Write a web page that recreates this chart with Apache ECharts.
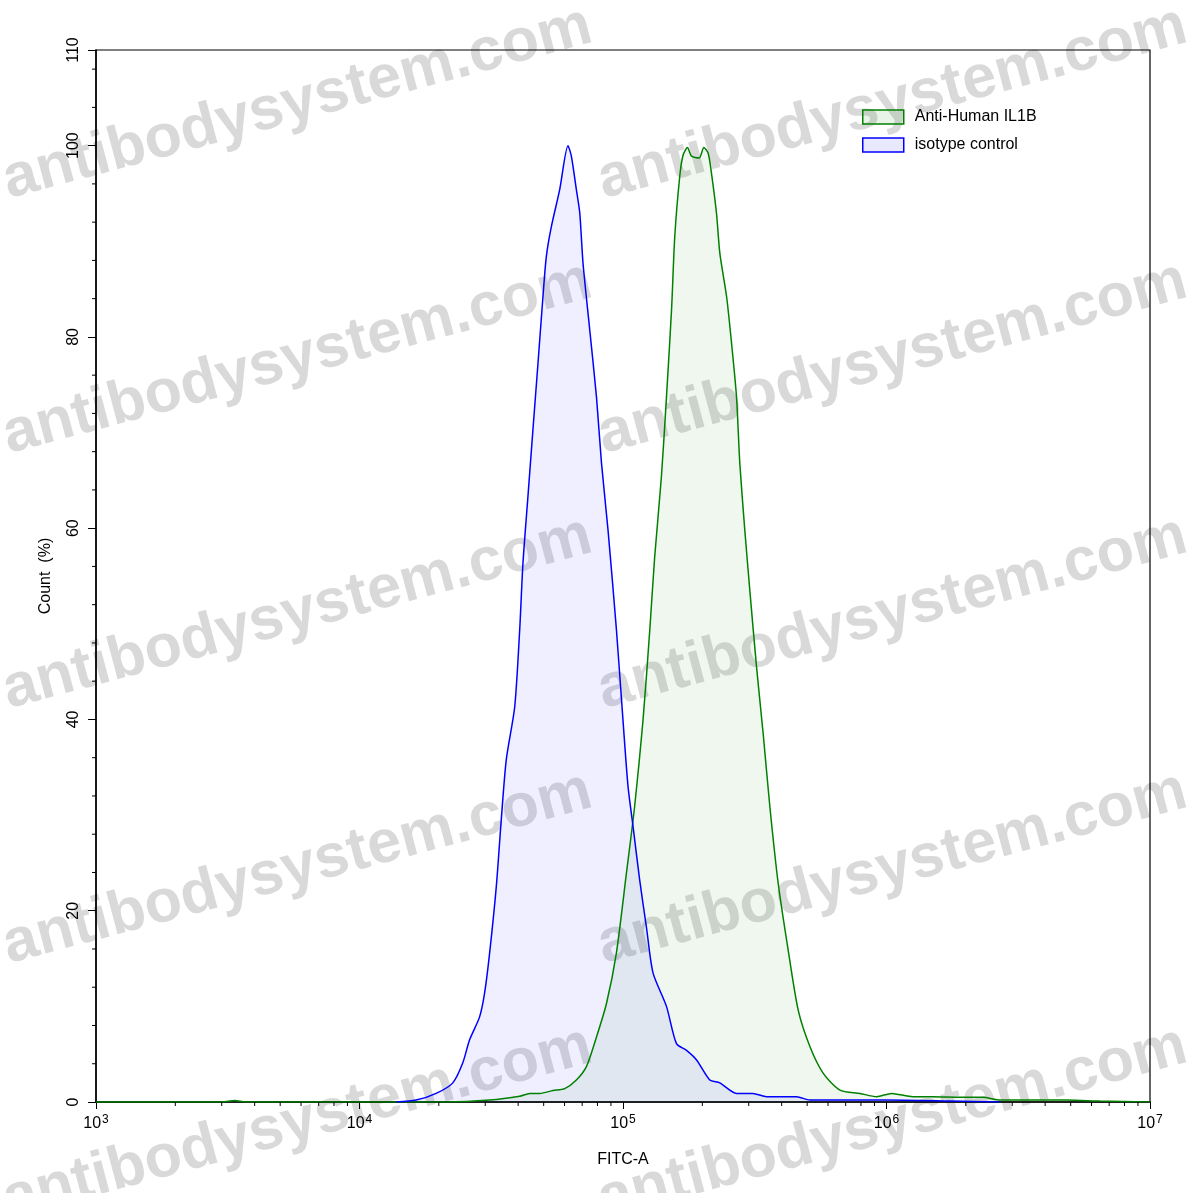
<!DOCTYPE html>
<html><head><meta charset="utf-8">
<script src="https://cdn.jsdelivr.net/npm/echarts@6/dist/echarts.min.js"></script>
<style>html,body{margin:0;padding:0;background:#fff}#c{width:1197px;height:1193px}</style>
</head><body><div id="c"></div>
<script>
const seriesNames = ['Anti-Human IL1B', 'isotype control'];

// Anti-Human IL1B (green)
const antiFitc = [1000, 3000, 3360, 3700, 21330, 31180, 40550, 44260, 48310, 54240, 60100, 66530, 72620, 79320, 86550, 94410,
  103000, 110700, 119100, 126400, 131900, 139900, 146200, 152800, 157200, 164200, 169000, 175700, 181900, 194500, 202700,
  210500, 216700, 226400, 233200, 247300, 258300, 269700, 277500, 289900, 302900, 321200, 340400, 360800, 388000, 423400,
  462300, 512000, 575400, 665700, 793100, 917000, 1045000, 1259000, 1500000, 1900000, 2324000, 2697000, 4833000, 6460000, 10000000];
const antiCount = [0, 0, 0.15, 0, 0, 0.2, 0.6, 0.9, 0.9, 1.2, 1.4, 2.3, 3.7, 6.8, 10.3, 15.6,
  23.9, 30.9, 39.9, 49.4, 57.0, 65.4, 73.7, 82.8, 90.5, 96.8, 99.0, 99.8, 98.9, 98.7, 99.8,
  99.2, 97.1, 92.9, 88.7, 84.2, 79.3, 73.7, 66.8, 59.8, 53.5, 45.5, 38.5, 30.9, 22.9, 15.9,
  9.6, 5.8, 3.0, 1.25, 0.9, 0.55, 0.9, 0.55, 0.55, 0.5, 0.5, 0.2, 0.2, 0.1, 0];

// isotype control (blue)
const isoFitc = [13770, 16400, 19540, 22600, 24660, 26170, 28560, 29840, 31180, 33040, 34510, 36060, 38810, 40550, 41710,
  43570, 45520, 47560, 49680, 51170, 53450, 57500, 61830, 63680, 66530, 68520, 70520, 74800, 79320, 82870, 87740, 94410,
  100000, 104500, 109200, 115700, 122700, 130000, 146200, 159600, 174200, 190200, 213500, 232900, 269700, 311000, 350600,
  456000, 512000, 745000, 1000000, 1741000, 2697000];
const isoCount = [0, 0.2, 0.9, 2.0, 4.1, 6.5, 8.9, 11.4, 15.6, 22.5, 29.5, 35.8, 41.3, 49.4, 56.3,
  63.3, 70.3, 77.2, 84.2, 88.4, 91.5, 95.4, 100, 98.9, 95.4, 93.0, 87.7, 80.7, 73.7, 66.8, 59.8, 49.4,
  39.9, 33.0, 28.8, 23.2, 18.3, 13.5, 10.0, 6.1, 5.4, 4.4, 2.3, 2.0, 0.9, 0.9, 0.55,
  0.55, 0.2, 0.2, 0.2, 0.1, 0];

// minor tick positions
const xDecades = [3, 4, 5, 6];
const xMinorMultipliers = [2, 3, 4, 5, 6, 7, 8, 9];
const yMinorTicks = [4, 8, 12, 16, 24, 28, 32, 36, 44, 48, 52, 56, 64, 68, 72, 76, 84, 88, 92, 96, 104, 108];

const xMinorTicks = [];
xDecades.forEach(d => xMinorMultipliers.forEach(m => xMinorTicks.push(m * Math.pow(10, d))));

const zip = (a, b) => a.map((v, i) => [v, b[i]]);
const FONT = '"Liberation Sans", Arial, Helvetica, sans-serif';

const wmRows = [199, 454, 709, 964, 1219];
const wmCols = [9, 604];
const graphics = [];
wmRows.forEach(y => wmCols.forEach(x => {
  graphics.push({
    type: 'text', x: x, y: y, rotation: 15.0 * Math.PI / 180, z: -10, silent: true,
    style: { text: 'antibodysystem.com', fill: 'rgba(150,150,150,0.36)', fontSize: 61, fontWeight: 'bold',
      fontFamily: FONT, align: 'left', verticalAlign: 'bottom', y: 13 }
  });
}));

const chart = echarts.init(document.getElementById('c'), null, { renderer: 'canvas' });
chart.setOption({
  animation: false,
  backgroundColor: '#fff',
  textStyle: { fontFamily: FONT },
  graphic: graphics,
  grid: { left: 96, right: 47, top: 50, bottom: 91, show: true, borderColor: '#000', borderWidth: 1.2, backgroundColor: 'transparent' },
  legend: {
    orient: 'vertical', left: 862, top: 109, padding: 0, itemWidth: 41, itemHeight: 14, itemGap: 12, icon: 'rect',
    textStyle: { fontSize: 16, color: '#000', fontFamily: FONT, padding: [0, 0, 0, 6] },
    data: [
      { name: seriesNames[0], itemStyle: { color: 'rgba(0,128,0,0.09)', borderColor: '#008000', borderWidth: 1.5 } },
      { name: seriesNames[1], itemStyle: { color: 'rgba(0,0,255,0.09)', borderColor: '#0000ff', borderWidth: 1.5 } }
    ]
  },
  xAxis: {
    type: 'log', logBase: 10, min: 1000, max: 10000000,
    name: 'FITC-A', nameLocation: 'middle', nameGap: 50,
    nameTextStyle: { fontSize: 16, color: '#000', fontFamily: FONT },
    axisLine: { lineStyle: { color: '#000', width: 1.5 } },
    axisTick: { length: 7, lineStyle: { color: '#000', width: 1 } },
    splitLine: { show: false },
    axisLabel: {
      margin: 12, color: '#000',
      formatter: v => '{b|10}{s|' + Math.round(Math.log10(v)) + '}',
      rich: {
        b: { fontSize: 16, fontFamily: FONT, color: '#000' },
        s: { fontSize: 12, fontFamily: FONT, color: '#000', padding: [0, 0, 7, 1] }
      }
    }
  },
  yAxis: {
    type: 'value', min: 0, max: 110, interval: 20,
    name: 'Count  (%)', nameLocation: 'middle', nameGap: 42, nameRotate: 90,
    nameTextStyle: { fontSize: 16, color: '#000', fontFamily: FONT },
    axisLine: { show: true, lineStyle: { color: '#000', width: 1.5 } },
    axisTick: { show: true, length: 8, lineStyle: { color: '#000', width: 1 } },
    splitLine: { show: false },
    axisLabel: { rotate: 90, margin: 14, fontSize: 16, color: '#000', fontFamily: FONT }
  },
  series: [
    {
      name: seriesNames[0], type: 'line', data: zip(antiFitc, antiCount), smooth: 0.25, symbol: 'none', z: 3,
      lineStyle: { color: '#008000', width: 1.5 }, itemStyle: { color: '#008000' },
      areaStyle: { color: 'rgba(0,128,0,0.09)' }
    },
    {
      name: seriesNames[1], type: 'line', data: zip(isoFitc, isoCount), smooth: 0.25, symbol: 'none', z: 3,
      lineStyle: { color: '#0000ff', width: 1.5 }, itemStyle: { color: '#0000ff' },
      areaStyle: { color: 'rgba(0,0,255,0.09)' }
    },
    {
      type: 'custom', silent: true, clip: false, z: 5,
      data: xMinorTicks.map(v => [v, 0]),
      renderItem: (params, api) => {
        const p = api.coord([api.value(0), 0]);
        return { type: 'line', shape: { x1: p[0], y1: p[1], x2: p[0], y2: p[1] + 4 }, style: { stroke: '#000', lineWidth: 1 } };
      }
    },
    {
      type: 'custom', silent: true, clip: false, z: 5,
      data: yMinorTicks.map(v => [1000, v]),
      renderItem: (params, api) => {
        const p = api.coord([1000, api.value(1)]);
        return { type: 'line', shape: { x1: p[0] - 4, y1: p[1], x2: p[0], y2: p[1] }, style: { stroke: '#000', lineWidth: 1 } };
      }
    }
  ]
});
</script></body></html>
